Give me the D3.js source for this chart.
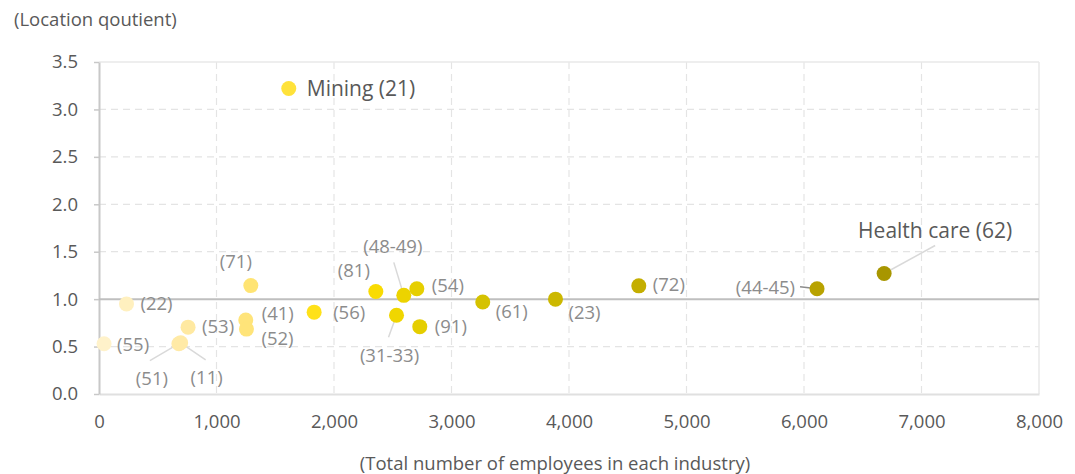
<!DOCTYPE html>
<html>
<head>
<meta charset="utf-8">
<script src="https://cdn.jsdelivr.net/npm/d3@7/dist/d3.min.js"></script>
<style>
  html, body { margin: 0; padding: 0; background: #fff; }
  svg { display: block; font-family: "Open Sans", "Noto Sans", sans-serif; }
</style>
</head>
<body>
<svg id="chart" width="1075" height="474"></svg>
<script>
// Industry codes, total employees and location quotient per industry
const codes     = ["21", "22", "55", "51", "11", "53", "71", "41", "52", "56", "81", "48-49", "54", "31-33", "91", "61", "23", "72", "44-45", "62"];
const names     = ["Mining", "", "", "", "", "", "", "", "", "", "", "", "", "", "", "", "", "", "", "Health care"];
const employees = [1615, 234, 43, 680, 695, 758, 1292, 1249, 1255, 1831, 2356, 2594, 2705, 2532, 2730, 3266, 3885, 4594, 6111, 6682];
const quotients = [3.22, 0.95, 0.53, 0.53, 0.54, 0.705, 1.143, 0.78, 0.684, 0.863, 1.08, 1.04, 1.11, 0.83, 0.71, 0.97, 1.0, 1.14, 1.11, 1.27];

const xTicks = [0, 1000, 2000, 3000, 4000, 5000, 6000, 7000, 8000];
const yTicks = [0, 0.5, 1.0, 1.5, 2.0, 2.5, 3.0, 3.5];
const yTitle = "(Location qoutient)";
const xTitle = "(Total number of employees in each industry)";

const svg = d3.select("#chart");
const margin = { left: 99, right: 36, top: 62, bottom: 80 };
const W = 1075, H = 474;

const x = d3.scaleLinear().domain([0, 8000]).range([margin.left, W - margin.right]);
const y = d3.scaleLinear().domain([0, 3.5]).range([H - margin.bottom, margin.top]);

// colour ramp: pale yellow for small industries to olive for the largest
const color = d3.scaleLinear()
  .domain([0, 700, 1250, 1800, 2400, 2700, 3300, 3900, 4600, 6100, 6700])
  .range(["#FFF3CC", "#FFEAA6", "#FFE47A", "#FFE11A", "#F8DB00", "#E6CF00", "#D4C100", "#CCB800", "#C4AE00", "#B8A200", "#A89600"]);

// grid
const grid = svg.append("g");
grid.selectAll(".vg").data(xTicks.slice(1, -1)).join("line")
  .attr("x1", d => x(d)).attr("x2", d => x(d))
  .attr("y1", y(3.5)).attr("y2", y(0))
  .attr("stroke", "#E4E4E4").attr("stroke-width", 1.2).attr("stroke-dasharray", "7,5");
grid.selectAll(".hg").data(yTicks.filter(d => d > 0 && d < 3.5 && d !== 1)).join("line")
  .attr("x1", x(0)).attr("x2", x(8000))
  .attr("y1", d => y(d)).attr("y2", d => y(d))
  .attr("stroke", "#E4E4E4").attr("stroke-width", 1.2).attr("stroke-dasharray", "7,5");
// plot frame
grid.append("line").attr("x1", x(0)).attr("x2", x(8000)).attr("y1", y(3.5)).attr("y2", y(3.5))
  .attr("stroke", "#E8E8E8").attr("stroke-width", 1.5);
grid.append("line").attr("x1", x(8000)).attr("x2", x(8000)).attr("y1", y(3.5)).attr("y2", y(0))
  .attr("stroke", "#E8E8E8").attr("stroke-width", 1.5);

// x axis
const xAxis = svg.append("g").attr("transform", `translate(0,${y(0)})`)
  .call(d3.axisBottom(x).tickValues(xTicks).tickFormat(d3.format(",")).tickSize(0).tickPadding(21));
xAxis.select(".domain").attr("stroke", "#E0E0E0").attr("stroke-width", 2);
xAxis.selectAll("text").attr("fill", "#595959").style("font-size", "18.5px").style("font-family", "'Open Sans', sans-serif");

// y axis
const yAxis = svg.append("g").attr("transform", `translate(${x(0)},0)`)
  .call(d3.axisLeft(y).tickValues(yTicks).tickFormat(d3.format(".1f")).tickSize(5).tickSizeOuter(0).tickPadding(16));
yAxis.select(".domain").attr("stroke", "#C8C8C8").attr("stroke-width", 2);
yAxis.selectAll(".tick line").attr("stroke", "#C8C8C8").attr("stroke-width", 1.5);
yAxis.selectAll("text").attr("fill", "#595959").style("font-size", "18.5px").style("font-family", "'Open Sans', sans-serif");

// reference line at quotient 1.0
svg.append("line").attr("x1", x(0)).attr("x2", x(8000)).attr("y1", y(1)).attr("y2", y(1))
  .attr("stroke", "#BFBFBF").attr("stroke-width", 2);

// axis titles
svg.append("text").attr("x", 14).attr("y", 26).text(yTitle)
  .attr("fill", "#595959").style("font-size", "18.5px");
svg.append("text").attr("x", 555).attr("y", 470).attr("text-anchor", "middle").text(xTitle)
  .attr("fill", "#595959").style("font-size", "18.5px");

const points = codes.map((c, i) => ({
  code: c, name: names[i], emp: employees[i], lq: quotients[i],
  label: names[i] ? `${names[i]} (${c})` : `(${c})`
}));

// label placement per industry: offset of label anchor from the point, anchor, and optional leader end
const place = {
  "21":    { dx: 18,  dy: 0,   anchor: "start" },
  "22":    { dx: 14,  dy: 0,   anchor: "start" },
  "55":    { dx: 13,  dy: 1,   anchor: "start" },
  "51":    { dx: -27, dy: 35,  anchor: "middle", leader: [-29, 17] },
  "11":    { dx: 26,  dy: 35,  anchor: "middle", leader: [25, 17] },
  "53":    { dx: 14,  dy: -1,  anchor: "start" },
  "71":    { dx: -15, dy: -24, anchor: "middle" },
  "41":    { dx: 16,  dy: -6,  anchor: "start" },
  "52":    { dx: 15,  dy: 9,   anchor: "start" },
  "56":    { dx: 19,  dy: 0,   anchor: "start" },
  "81":    { dx: -22, dy: -21, anchor: "middle" },
  "48-49": { dx: -11, dy: -49, anchor: "middle", leader: [-10, -33] },
  "54":    { dx: 15,  dy: -3,  anchor: "start" },
  "31-33": { dx: -7,  dy: 40,  anchor: "middle", leader: [-8, 22] },
  "91":    { dx: 15,  dy: 0,   anchor: "start" },
  "61":    { dx: 13,  dy: 10,  anchor: "start" },
  "23":    { dx: 13,  dy: 13,  anchor: "start" },
  "72":    { dx: 14,  dy: -1,  anchor: "start" },
  "44-45": { dx: -22, dy: -1,  anchor: "end",   leader: [-17, -2] },
  "62":    { dx: 51,  dy: -43, anchor: "middle", leader: [51, -28] }
};

// leader lines
svg.append("g").selectAll("line")
  .data(points.filter(d => place[d.code].leader)).join("line")
  .attr("x1", d => x(d.emp)).attr("y1", d => y(d.lq))
  .attr("x2", d => x(d.emp) + place[d.code].leader[0])
  .attr("y2", d => y(d.lq) + place[d.code].leader[1])
  .attr("stroke", d => d.code === "44-45" ? "#8C8C8C" : "#D9D9D9").attr("stroke-width", 1.5);

// points
svg.append("g").selectAll("circle").data(points).join("circle")
  .attr("cx", d => x(d.emp)).attr("cy", d => y(d.lq)).attr("r", 7.5)
  .attr("fill", d => color(d.emp));

// labels
svg.append("g").selectAll("text").data(points).join("text")
  .attr("x", d => x(d.emp) + place[d.code].dx)
  .attr("y", d => y(d.lq) + place[d.code].dy)
  .attr("dy", "0.35em")
  .attr("text-anchor", d => place[d.code].anchor)
  .attr("fill", d => d.name ? "#595959" : "#8C8C8C")
  .style("font-size", d => d.name ? "21px" : "18.5px")
  .text(d => d.label);
</script>
</body>
</html>
